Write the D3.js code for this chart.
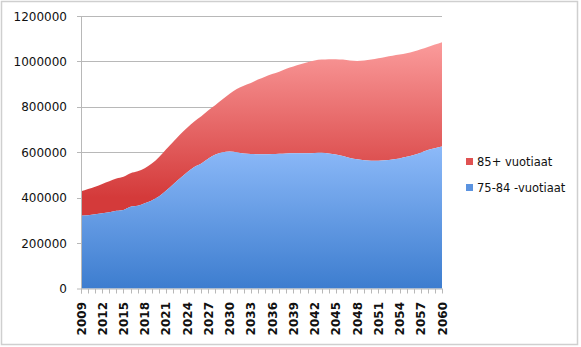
<!DOCTYPE html>
<html><head><meta charset="utf-8">
<script src="https://cdn.jsdelivr.net/npm/d3@7/dist/d3.min.js"></script>
<style>body{margin:0;background:#fff}svg{display:block}text{font-family:"DejaVu Sans",sans-serif;fill:#111}</style>
</head><body><svg id="c" width="581" height="347"></svg>
<script>
const years = d3.range(2009, 2061);
const age75_84 = [320000,323000,327000,331000,336000,342000,346000,360000,364000,375000,388000,405000,430000,458000,485000,512000,535000,550000,572000,590000,600000,603000,600000,594000,592000,591000,591000,592000,593000,595000,596000,596000,596000,597000,598000,595000,590000,583000,575000,569000,565000,563000,563000,565000,568000,573000,580000,588000,598000,610000,618000,625000];
const age85plus = [108000,115000,121000,129000,136000,142000,146000,148000,152000,155000,162000,173000,182000,187000,193000,196000,200000,208000,213000,218000,233000,255000,278000,299000,313000,329000,342000,353000,362000,373000,382000,392000,400000,407000,410000,415000,420000,425000,429000,433000,439000,445000,451000,455000,457000,457000,456000,456000,456000,454000,456000,459000];
const yTicks = [0,200000,400000,600000,800000,1000000,1200000];
const xLabelYears = years.filter(y => (y-2009)%3===0);
const seriesNames = ["75-84 -vuotiaat","85+ vuotiaat"];

const svg = d3.select("#c");
const defs = svg.append("defs");
const L=81, R=442, T=16, B=288.5;
const x = d3.scaleLinear().domain([2009,2060]).range([L,R]);
const y = d3.scaleLinear().domain([0,1200000]).range([B,T]);

svg.append("rect").attr("x",1.5).attr("y",1.5).attr("width",576).attr("height",343).attr("fill","#fff").attr("stroke","#cfcfcf").attr("stroke-width",1.5);

svg.append("g").selectAll("line").data(yTicks.slice(1)).join("line")
  .attr("x1",L-4).attr("x2",R).attr("y1",d=>Math.round(y(d))+0.5).attr("y2",d=>Math.round(y(d))+0.5)
  .attr("stroke","#b8b8b8").attr("stroke-width",1);

function grad(id, c1, c2, y1, y2){
  const g = defs.append("linearGradient").attr("id",id).attr("gradientUnits","userSpaceOnUse")
    .attr("x1",0).attr("x2",0).attr("y1",y1).attr("y2",y2);
  g.append("stop").attr("offset",0).attr("stop-color",c1);
  g.append("stop").attr("offset",1).attr("stop-color",c2);
}
grad("gb","#8dbaf9","#3d7dcf",y(630000),B);
grad("gr","#fb9c9c","#d43a3a",y(1090000),y(400000));

const data = years.map((yr,i)=>({yr, a:age75_84[i], b:age85plus[i]}));
const curve = d3.curveMonotoneX;
svg.append("path").datum(data).attr("fill","url(#gr)")
  .attr("d", d3.area().curve(curve).x(d=>x(d.yr)).y0(d=>y(d.a)).y1(d=>y(d.a+d.b)));
svg.append("path").datum(data).attr("fill","url(#gb)")
  .attr("d", d3.area().curve(curve).x(d=>x(d.yr)).y0(B).y1(d=>y(d.a)));

svg.append("line").attr("x1",L+0.5).attr("x2",L+0.5).attr("y1",T).attr("y2",B+5).attr("stroke","#b8b8b8");
svg.append("line").attr("x1",L-4).attr("x2",R).attr("y1",B+0.5).attr("y2",B+0.5).attr("stroke","#b8b8b8");
svg.append("g").selectAll("line").data(years).join("line")
  .attr("x1",d=>Math.round(x(d))+0.5).attr("x2",d=>Math.round(x(d))+0.5).attr("y1",B).attr("y2",B+5)
  .attr("stroke","#b8b8b8");

svg.append("g").selectAll("text").data(yTicks).join("text")
  .attr("x",67).attr("y",d=>y(d)+4.5).attr("text-anchor","end").attr("font-size","12px").text(d=>d);

svg.append("g").selectAll("text").data(xLabelYears).join("text")
  .attr("transform",d=>`translate(${x(d)+4.5},302) rotate(-90)`).attr("text-anchor","end")
  .attr("font-size","12px").attr("font-weight","bold").text(d=>d);

const leg = [{name:seriesNames[1], c:"#e05252", y:158},{name:seriesNames[0], c:"#5b93e0", y:184}];
const lg = svg.append("g").selectAll("g").data(leg).join("g");
lg.append("rect").attr("x",466).attr("y",d=>d.y).attr("width",7).attr("height",7).attr("fill",d=>d.c);
lg.append("text").attr("x",477).attr("y",d=>d.y+8).attr("font-size","11.5px").text(d=>d.name);
</script></body></html>
